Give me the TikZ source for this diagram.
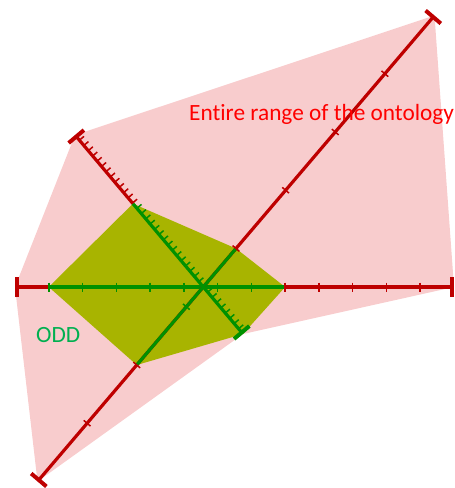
\documentclass[tikz,border=0pt]{standalone}
\usepackage{fontspec}
\setmainfont{Carlito}[Ligatures=NoCommon]
\usetikzlibrary{calc,arrows.meta}
\definecolor{OntoRed}{RGB}{190,0,0}
\definecolor{OntoPink}{RGB}{248,204,205}
\definecolor{OddGreen}{RGB}{0,145,0}
\definecolor{OddFill}{RGB}{168,180,0}
\definecolor{LabelRed}{RGB}{255,0,0}
\definecolor{LabelGreen}{RGB}{0,176,80}

\begin{document}
\begin{tikzpicture}[x=1pt, y=-1pt,
                every node/.style={font=\fontsize{23.3}{28}\selectfont, inner sep=0pt},
                axis/.style={line width=3.2pt},
                bothbars/.style={{Bar[width=20pt,line width=4pt]}-{Bar[width=20pt,line width=4pt]}},
                startbar/.style={{Bar[width=20pt,line width=4pt]}-},
                endbar/.style={-{Bar[width=20pt,line width=4pt]}},
                tick/.style={line width=1.5pt}]

                \useasboundingbox (0,0) rectangle (455,488);

                % Axis ends
                \coordinate (hL) at (15,287);
                \coordinate (hR) at (454,287);
                \coordinate (dSW) at (37.5,481.5);
                \coordinate (dNE) at (434.5,15.5);
                \coordinate (aNW) at (75,135);
                \coordinate (aSE) at (243,334);

                % ODD limits
                \coordinate (gL) at ($(hL)!1/13!(hR)$);
                \coordinate (gR) at ($(hL)!8/13!(hR)$);
                \coordinate (gSW) at ($(dSW)!2/8!(dNE)$);
                \coordinate (gNE) at ($(dSW)!4/8!(dNE)$);
                \coordinate (gNW) at ($(aNW)!0.345!(aSE)$);

                % Regions
                \fill[OntoPink] (aNW) -- (dNE) -- (hR) -- (aSE) -- (dSW) -- (hL) -- cycle;
                \fill[OddFill] (gL) -- (gNW) -- (gNE) -- (gR) -- (aSE) -- (gSW) -- cycle;

                % Axes
                \draw[axis, OntoRed, bothbars] (hL) -- (hR);
                \draw[axis, OddGreen] (gL) -- (gR);
                \draw[axis, OntoRed, bothbars] (dSW) -- (dNE);
                \draw[axis, OddGreen] (gSW) -- (gNE);
                \draw[axis, OntoRed, startbar] (aNW) -- (gNW);
                \draw[axis, OddGreen, endbar] (gNW) -- (aSE);

                % Ticks
                \foreach \k in {1,...,7}
                    \draw[tick, OddGreen] ($(hL)!\k/13!(hR)$) +(0,-4.5) -- +(0,4.5);
                \foreach \k in {8,...,12}
                    \draw[tick, OntoRed] ($(hL)!\k/13!(hR)$) +(0,-4.5) -- +(0,4.5);
                \foreach \k in {1,2,4,5,6,7}
                    \draw[tick, OntoRed] ($(dSW)!\k/8!(dNE)$) +(-3.4,-2.9) -- +(3.4,2.9);
                \draw[tick, OddGreen] ($(dSW)!3/8!(dNE)$) +(-3.4,-2.9) -- +(3.4,2.9);
                \foreach \k in {1,...,13}
                    \draw[tick, OntoRed] ($(aNW)!\k/38!(aSE)$) -- +(4.6,-3.9);
                \foreach \k in {14,...,37}
                    \draw[tick, OddGreen] ($(aNW)!\k/38!(aSE)$) -- +(4.6,-3.9);

                % Labels
                \node[LabelRed, anchor=base west] (range) at (189,120) {Entire range of the ontology};
                \node[LabelGreen, anchor=base west] (odd) at (36,342) {ODD};
\end{tikzpicture}
\end{document}
